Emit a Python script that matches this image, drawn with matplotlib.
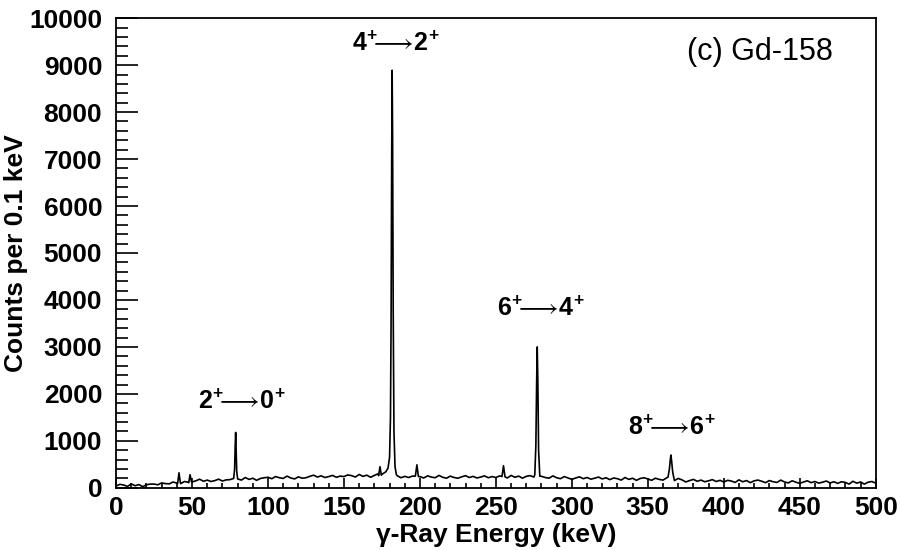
import numpy as np
import matplotlib
matplotlib.use("Agg")
import matplotlib.pyplot as plt
from matplotlib.ticker import MultipleLocator

plt.rcParams["font.family"] = ["Liberation Sans", "DejaVu Sans"]
plt.rcParams["mathtext.fontset"] = "custom"
plt.rcParams["mathtext.rm"] = "Liberation Sans"
plt.rcParams["mathtext.bf"] = "Liberation Sans:bold"

# background counts, one value every 2.5 keV from 0 to 500 keV
bg_step = 2.5
bg_counts = [
    40, 75, 60, 30, 85, 45, 70, 25, 65, 80,            # 0 - 22.5
    80, 65, 105, 90, 85, 125, 100, 90, 135, 120,       # 25 - 47.5
    125, 150, 185, 140, 165, 135, 155, 185, 145, 170,  # 50 - 72.5
    175, 210, 195, 165, 220, 180, 205, 160, 200, 215,  # 75 - 97.5
    225, 195, 240, 215, 200, 250, 210, 190, 235, 205,  # 100 - 122.5
    215, 245, 270, 230, 255, 220, 240, 265, 225, 250,  # 125 - 147.5
    240, 275, 260, 230, 285, 245, 270, 225, 265, 300,  # 150 - 172.5
    290, 340, 345, 380, 260, 215, 245, 220, 250, 230,  # 175 - 197.5
    240, 210, 255, 230, 215, 265, 225, 205, 250, 220,  # 200 - 222.5
    205, 235, 260, 220, 245, 210, 230, 255, 215, 240,  # 225 - 247.5
    220, 255, 240, 210, 265, 225, 250, 205, 245, 260,  # 250 - 272.5
    230, 210, 245, 220, 205, 255, 215, 195, 240, 210,  # 275 - 297.5
    180, 210, 235, 195, 220, 185, 205, 230, 190, 215,  # 300 - 322.5
    175, 210, 195, 165, 220, 180, 205, 160, 200, 215,  # 325 - 347.5
    190, 160, 205, 180, 165, 215, 175, 155, 200, 170,  # 350 - 372.5
    125, 155, 180, 140, 165, 130, 150, 175, 135, 160,  # 375 - 397.5
    125, 160, 145, 115, 170, 130, 155, 110, 150, 165,  # 400 - 422.5
    140, 110, 155, 130, 115, 165, 125, 105, 150, 120,  # 425 - 447.5
    95, 125, 150, 110, 135, 100, 120, 145, 105, 130,   # 450 - 472.5
    95, 130, 115, 80, 140, 100, 125, 80, 120, 135,     # 475 - 497.5
    100,                                               # 500
]

# peaks: energies (keV) and counts per 0.1 keV
peak_41_e = [40.5, 41.4, 42.3]
peak_41_c = [90, 320, 110]
peak_49_e = [47.8, 48.7, 49.6]
peak_49_c = [110, 280, 130]
peak_2to0_e = [77.4, 78.0, 78.4, 78.7, 79.0, 79.4, 80.0]
peak_2to0_c = [200, 400, 900, 1180, 850, 350, 190]
peak_174_e = [172.8, 173.7, 174.6]
peak_174_c = [260, 450, 270]
peak_4to2_e = [179.0, 180.0, 180.6, 181.0, 181.4, 181.7, 182.0, 182.4, 182.9, 183.6, 184.5]
peak_4to2_c = [420, 650, 1500, 3500, 7000, 8890, 7500, 3800, 1200, 450, 280]
peak_198_e = [197.0, 198.0, 199.0]
peak_198_c = [250, 490, 240]
peak_255_e = [254.0, 255.0, 256.0]
peak_255_c = [240, 470, 235]
peak_6to4_e = [275.6, 276.3, 276.8, 277.2, 277.6, 278.1, 278.9]
peak_6to4_c = [280, 900, 2200, 3000, 2300, 800, 250]
peak_8to6_e = [363.3, 364.2, 364.8, 365.2, 365.7, 366.4, 367.3]
peak_8to6_c = [230, 400, 600, 700, 560, 330, 190]

peaks = [
    (peak_41_e, peak_41_c), (peak_49_e, peak_49_c),
    (peak_2to0_e, peak_2to0_c), (peak_174_e, peak_174_c),
    (peak_4to2_e, peak_4to2_c), (peak_198_e, peak_198_c),
    (peak_255_e, peak_255_c), (peak_6to4_e, peak_6to4_c),
    (peak_8to6_e, peak_8to6_c),
]


def build_spectrum(bg, step, peaks):
    e = list(np.arange(len(bg)) * step)
    c = list(bg)
    for pe, pc in peaks:
        keep = [(x, y) for x, y in zip(e, c) if x < pe[0] or x > pe[-1]]
        e = [k[0] for k in keep] + list(pe)
        c = [k[1] for k in keep] + list(pc)
    order = np.argsort(e)
    return np.array(e)[order], np.array(c)[order]


energy, counts = build_spectrum(bg_counts, bg_step, peaks)

fig = plt.figure(figsize=(9, 5.5), dpi=100)
ax = fig.add_axes([0.129, 0.113, 0.844, 0.854])
ax.plot(energy, counts, color="black", lw=1.2)

ax.set_xlim(0, 500)
ax.set_ylim(0, 10000)
ax.xaxis.set_major_locator(MultipleLocator(50))
ax.xaxis.set_minor_locator(MultipleLocator(10))
ax.yaxis.set_major_locator(MultipleLocator(1000))
ax.yaxis.set_minor_locator(MultipleLocator(200))
ax.tick_params(axis="both", which="both", direction="in", width=1.2, labelsize=19)
ax.tick_params(axis="x", which="major", length=7, pad=6)
ax.tick_params(axis="x", which="minor", length=3.6)
ax.tick_params(axis="y", which="major", length=15.8, pad=10)
ax.tick_params(axis="y", which="minor", length=8.6)
for lab in ax.get_xticklabels() + ax.get_yticklabels():
    lab.set_fontweight("bold")
for sp in ax.spines.values():
    sp.set_linewidth(1.3)

ax.set_xlabel("γ-Ray Energy (keV)", fontsize=19, fontweight="bold", labelpad=2)
ax.set_ylabel("Counts per 0.1 keV", fontsize=19, fontweight="bold")
ax.yaxis.set_label_coords(-0.116, 0.5)

lab_kw = dict(ha="center", va="center", fontsize=18)
ax.text(184.2, 9447, r"$\mathbf{4^{+}}\!\!\longrightarrow\!\mathbf{2^{+}}$", **lab_kw)
ax.text(83, 1830, r"$\mathbf{2^{+}}\!\!\longrightarrow\!\mathbf{0^{+}}$", **lab_kw)
ax.text(279.6, 3810, r"$\mathbf{6^{+}}\!\!\longrightarrow\!\mathbf{4^{+}}$", **lab_kw)
ax.text(365.8, 1280, r"$\mathbf{8^{+}}\!\!\longrightarrow\!\mathbf{6^{+}}$", **lab_kw)
ax.text(375.7, 9277, "(c) Gd-158", ha="left", va="center", fontsize=22)

fig.savefig("out.png", dpi=100)
